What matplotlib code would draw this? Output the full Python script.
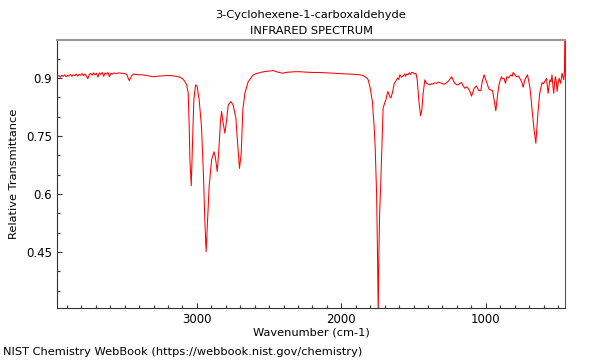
import matplotlib.pyplot as plt
from matplotlib.ticker import MultipleLocator

# wavenumber (cm-1) and relative transmittance
wavenumber = [
    3968, 3955, 3945, 3935, 3925, 3915, 3905, 3895, 3885, 3875, 3865, 3855,
    3845, 3835, 3825, 3815, 3805, 3795, 3785, 3775, 3765, 3755, 3745, 3735,
    3725, 3715, 3705, 3695, 3685, 3675, 3665, 3655, 3645, 3635, 3625, 3615,
    3605, 3595, 3585, 3575, 3560, 3540, 3520, 3500, 3485, 3475, 3468, 3460,
    3450, 3440, 3420, 3400, 3380, 3360, 3340, 3320, 3300, 3280, 3260, 3240,
    3220, 3200, 3180, 3160, 3140, 3120, 3100, 3085, 3071, 3060, 3053, 3048,
    3039, 3030, 3021, 3009, 2998, 2984, 2968, 2954, 2945, 2936, 2926, 2915,
    2898, 2882, 2873, 2859, 2848, 2836, 2829, 2818, 2806, 2794, 2783, 2765,
    2749, 2730, 2718, 2705, 2693, 2682, 2668, 2645, 2610, 2580, 2552, 2520,
    2490, 2470, 2450, 2420, 2405, 2390, 2360, 2320, 2287, 2250, 2200, 2150,
    2100, 2057, 2000, 1950, 1900, 1872, 1850, 1837, 1822, 1814, 1803, 1798,
    1784, 1780, 1773, 1766, 1760, 1756, 1750, 1745, 1740, 1735, 1728, 1722,
    1715, 1711, 1700, 1692, 1685, 1678, 1669, 1662, 1657, 1648, 1640, 1634,
    1625, 1618, 1610, 1603, 1595, 1585, 1572, 1563, 1555, 1549, 1540, 1530,
    1522, 1515, 1503, 1495, 1484, 1475, 1464, 1452, 1443, 1434, 1422, 1411,
    1400, 1388, 1375, 1365, 1355, 1341, 1330, 1318, 1305, 1295, 1284, 1270,
    1261, 1250, 1237, 1225, 1215, 1200, 1191, 1180, 1168, 1158, 1145, 1135,
    1122, 1110, 1099, 1090, 1081, 1065, 1058, 1049, 1035, 1025, 1012, 1005,
    996, 985, 978, 965, 954, 943, 931, 920, 910, 903, 892, 885,
    874, 864, 855, 845, 834, 825, 818, 811, 800, 788, 775, 765,
    752, 742, 730, 712, 705, 696, 688, 680, 666, 654, 643, 635,
    627, 611, 600, 592, 580, 569, 557, 549, 542, 536, 530, 524,
    518, 512, 507, 500, 493, 482, 473, 461, 456, 452,
]
transmittance = [
    0.904, 0.906, 0.902, 0.907, 0.904, 0.908, 0.903, 0.906, 0.905, 0.909, 0.904, 0.908,
    0.906, 0.910, 0.905, 0.909, 0.907, 0.911, 0.906, 0.910, 0.905, 0.898, 0.908, 0.912,
    0.907, 0.913, 0.908, 0.912, 0.902, 0.913, 0.909, 0.914, 0.904, 0.913, 0.910, 0.914,
    0.903, 0.912, 0.910, 0.913, 0.911, 0.913, 0.912, 0.911, 0.909, 0.899, 0.893, 0.899,
    0.906, 0.910, 0.909, 0.908, 0.908, 0.907, 0.906, 0.904, 0.903, 0.904, 0.905, 0.905,
    0.906, 0.906, 0.906, 0.905, 0.904, 0.902, 0.898, 0.892, 0.882, 0.861, 0.774, 0.688,
    0.621, 0.732, 0.843, 0.882, 0.878, 0.843, 0.774, 0.645, 0.533, 0.451, 0.533, 0.619,
    0.688, 0.709, 0.697, 0.658, 0.714, 0.791, 0.813, 0.783, 0.757, 0.791, 0.830, 0.839,
    0.830, 0.796, 0.731, 0.666, 0.705, 0.817, 0.860, 0.890, 0.908, 0.912, 0.915, 0.917,
    0.918, 0.919, 0.916, 0.913, 0.912, 0.914, 0.915, 0.916, 0.916, 0.915, 0.914, 0.914,
    0.913, 0.912, 0.911, 0.910, 0.909, 0.908, 0.906, 0.903, 0.899, 0.895, 0.878, 0.869,
    0.835, 0.809, 0.774, 0.722, 0.650, 0.600, 0.450, 0.290, 0.450, 0.550, 0.620, 0.688,
    0.774, 0.822, 0.835, 0.843, 0.855, 0.865, 0.856, 0.850, 0.848, 0.860, 0.873, 0.886,
    0.890, 0.895, 0.900, 0.896, 0.908, 0.902, 0.905, 0.910, 0.904, 0.910, 0.908, 0.913,
    0.909, 0.914, 0.914, 0.910, 0.912, 0.895, 0.843, 0.802, 0.817, 0.860, 0.895, 0.886,
    0.884, 0.882, 0.885, 0.884, 0.887, 0.886, 0.889, 0.888, 0.886, 0.884, 0.884, 0.888,
    0.891, 0.896, 0.903, 0.893, 0.886, 0.882, 0.882, 0.886, 0.888, 0.880, 0.873, 0.877,
    0.873, 0.865, 0.853, 0.863, 0.873, 0.879, 0.874, 0.867, 0.867, 0.890, 0.908, 0.900,
    0.891, 0.878, 0.871, 0.869, 0.867, 0.843, 0.815, 0.852, 0.880, 0.891, 0.903, 0.898,
    0.899, 0.886, 0.903, 0.900, 0.905, 0.908, 0.904, 0.914, 0.908, 0.903, 0.905, 0.899,
    0.890, 0.876, 0.895, 0.908, 0.895, 0.878, 0.850, 0.817, 0.765, 0.731, 0.791, 0.830,
    0.860, 0.888, 0.885, 0.891, 0.899, 0.860, 0.895, 0.890, 0.908, 0.880, 0.860, 0.890,
    0.903, 0.890, 0.865, 0.885, 0.899, 0.886, 0.912, 0.895, 0.916, 1.050,
]

title = '3-Cyclohexene-1-carboxaldehyde\nINFRARED SPECTRUM'
footer = 'NIST Chemistry WebBook (https://webbook.nist.gov/chemistry)'

plt.rcParams['font.family'] = 'DejaVu Sans'
plt.rcParams['font.size'] = 8.2

fig = plt.figure(figsize=(6, 3.6), dpi=100)
ax = fig.add_axes([0.095, 0.1444, 0.8467, 0.7445])
ax.plot(wavenumber, transmittance, color='#ff0000', linewidth=0.75)

ax.set_xlim(3968, 452)
ax.set_ylim(0.305, 0.998)
ax.xaxis.set_major_locator(MultipleLocator(1000))
ax.xaxis.set_minor_locator(MultipleLocator(100))
ax.yaxis.set_minor_locator(MultipleLocator(0.05))
ax.set_yticks([0.45, 0.6, 0.75, 0.9])
ax.set_yticklabels(['0.45', '0.6', '0.75', '0.9'])
ax.tick_params(which='both', direction='in', top=False, right=False, color='#333333')
ax.tick_params(which='major', length=3.5, width=0.8, labelsize=8.5)
ax.tick_params(which='minor', length=2, width=0.8)

ax.spines['left'].set_color('#333333')
ax.spines['bottom'].set_color('#333333')
ax.spines['right'].set_color('#555555')
ax.spines['top'].set_color('#999999')
ax.spines['top'].set_linewidth(1.5)

ax.set_xlabel('Wavenumber (cm-1)', labelpad=1)
ax.set_ylabel('Relative Transmittance', labelpad=5)
ax.set_title(title, fontsize=8.2, linespacing=1.75, pad=4)
fig.text(0.005, 0.008, footer, fontsize=8.2, ha='left', va='bottom')

fig.savefig('out.png', dpi=100)
